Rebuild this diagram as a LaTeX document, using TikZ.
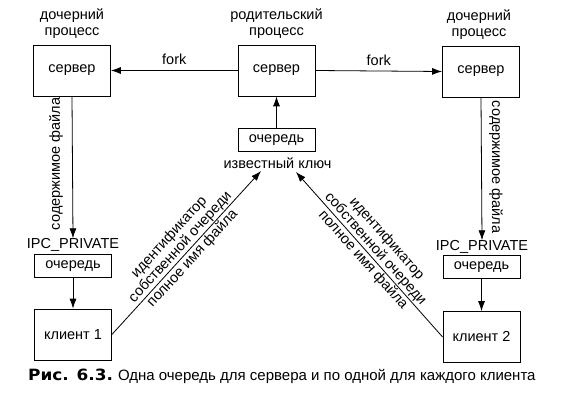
\documentclass[tikz,border=0pt]{standalone}
\usepackage{fontspec}
\setmainfont{Liberation Sans}
\newfontfamily\capbold{DejaVu Sans Bold}
\usetikzlibrary{arrows.meta}
\begin{document}
\begin{tikzpicture}[x=1pt,y=-1pt,
  every node/.style={font=\fontsize{14.5}{16}\selectfont},
  box/.style={draw,line width=0.8pt,inner sep=0pt,minimum width=77pt,minimum height=51pt},
  qbox/.style={draw,line width=0.8pt,inner sep=0pt,minimum width=77pt,minimum height=23pt},
  lbl/.style={align=center,inner sep=0pt},
  dlbl/.style={midway,sloped,align=center,inner sep=1pt,font=\fontsize{14.5}{15}\selectfont},
  arr/.style={line width=0.8pt,-{Latex[length=10pt,width=7pt]}}
]
\useasboundingbox (0,0) rectangle (561,406);
% servers
\node[box] (ls) at (72,70.5) {сервер};
\node[box] (cs) at (276.5,70.5) {сервер};
\node[box] (rs) at (481,71.5) {сервер};
\node[lbl,anchor=south] (lsl) at (72,39) {дочерний\\процесс};
\node[lbl,anchor=south] (csl) at (276.5,39) {родительский\\процесс};
\node[lbl,anchor=south] (rsl) at (479,40) {дочерний\\процесс};
% fork arrows
\draw[arr] (cs.west) -- node[above,inner sep=5pt] (f1) {fork} (ls.east);
\draw[arr] (cs.east) -- node[above,inner sep=5pt] (f2) {fork} (rs.west);
% well-known queue
\node[qbox] (q) at (276.5,140) {очередь};
\node[lbl,anchor=north] (kk) at (277.5,158) {известный ключ};
\draw[arr] (q.north) -- (cs.south);
% left client column
\node[lbl] (ipc1) at (73,245) {IPC\_PRIVATE};
\node[qbox] (lq) at (73,266) {очередь};
\node[box] (c1) at (73,334.5) {клиент 1};
\draw[arr] (ls.south) -- (ipc1.north);
\node[lbl,rotate=90,anchor=south] (cf1) at (63,164) {содержимое файла};
\draw[arr] (lq.south) -- (c1.north);
% right client column
\node[lbl] (ipc2) at (482,247) {IPC\_PRIVATE};
\node[qbox] (rq) at (481.5,267) {очередь};
\node[box] (c2) at (481.5,337) {клиент 2};
\draw[arr] (rs.south) -- (ipc2.north);
\node[lbl,rotate=-90,anchor=south] (cf2) at (489,167) {содержимое файла};
\draw[arr] (rq.south) -- (c2.north);
% diagonal messages
\coordinate (t1) at (261,171);
\coordinate (t2) at (296,172);
\draw[arr] (c1.east) -- node[dlbl,above] (m1) {идентификатор\\собственной очереди}
  node[dlbl,below] (p1) {полное имя файла} (t1);
\draw[arr] (c2.west) -- node[dlbl,above] (m2) {идентификатор\\собственной очереди}
  node[dlbl,below] (p2) {полное имя файла} (t2);
% caption
\node[anchor=base west,inner sep=0pt,font=\fontsize{15}{16}\selectfont] (cap) at (28,380)
  {\scalebox{1.09}[1]{\fontsize{15.5}{16}\capbold Рис. 6.3.}\hspace{5pt}Одна очередь для сервера и по одной для каждого клиента};
\end{tikzpicture}
\end{document}
